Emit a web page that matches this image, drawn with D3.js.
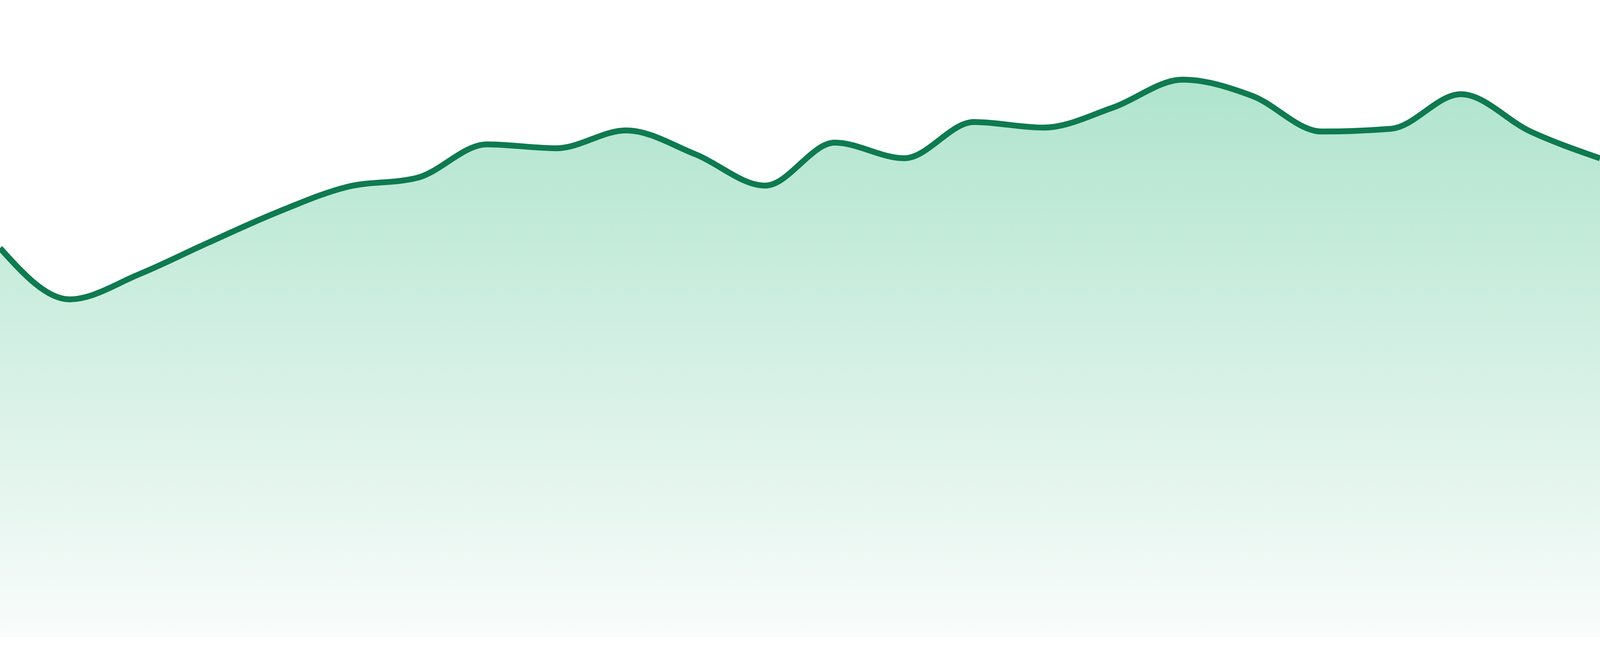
<!DOCTYPE html>
<html lang="en">
<head>
    <meta charset="UTF-8">
    <title>Area sparkline</title>
    <script src="https://cdnjs.cloudflare.com/ajax/libs/d3/7.8.5/d3.min.js"></script>
    <style>
        html, body {
            margin: 0;
            padding: 0;
            background: #fff;
            overflow: hidden;
        }
        .line {
            fill: none;
            stroke: #0f7a50;
            stroke-width: 15;
        }
    </style>
</head>
<body>
    <div id="chart"></div>

    <script>
        // one reading per step, evenly spaced across the width
        const steps = d3.range(24);
        const values = [
            69.8, 60.6, 65.1, 70.8, 76.3, 80.8, 82.4, 88.4,
            87.7, 90.9, 86.6, 81.0, 88.7, 85.9, 92.4, 91.4,
            95.0, 100.0, 97.1, 90.7, 91.2, 97.4, 90.7, 85.9
        ];
        const yDomain = [0, 100];

        // fill the window; vertical proportions taken from a 4800 x 1680 frame
        const width = window.innerWidth || 4800;
        const height = window.innerHeight || 1680;
        const plotBottom = height * 1632 / 1680;
        const plotTop = height * 204 / 1680;

        const svg = d3.select("#chart")
            .append("svg")
            .attr("width", width)
            .attr("height", height)
            .style("display", "block");

        const x = d3.scaleLinear()
            .domain(d3.extent(steps))
            .range([0, width]);

        const y = d3.scaleLinear()
            .domain(yDomain)
            .range([plotBottom, plotTop]);

        const data = steps.map((s, i) => ({step: s, value: values[i]}));

        const grad = svg.append("defs")
            .append("linearGradient")
            .attr("id", "fade")
            .attr("gradientUnits", "userSpaceOnUse")
            .attr("x1", 0).attr("x2", 0)
            .attr("y1", y(yDomain[1])).attr("y2", y(yDomain[0]));
        grad.append("stop").attr("offset", 0).attr("stop-color", "#afe4cd");
        grad.append("stop").attr("offset", 1).attr("stop-color", "#f9fcfb");

        const area = d3.area()
            .curve(d3.curveMonotoneX)
            .x(d => x(d.step))
            .y0(y(0))
            .y1(d => y(d.value));

        const line = d3.line()
            .curve(d3.curveMonotoneX)
            .x(d => x(d.step))
            .y(d => y(d.value));

        svg.append("path")
            .datum(data)
            .attr("fill", "url(#fade)")
            .attr("d", area);

        svg.append("path")
            .datum(data)
            .attr("class", "line")
            .attr("d", line);
    </script>
</body>
</html>
